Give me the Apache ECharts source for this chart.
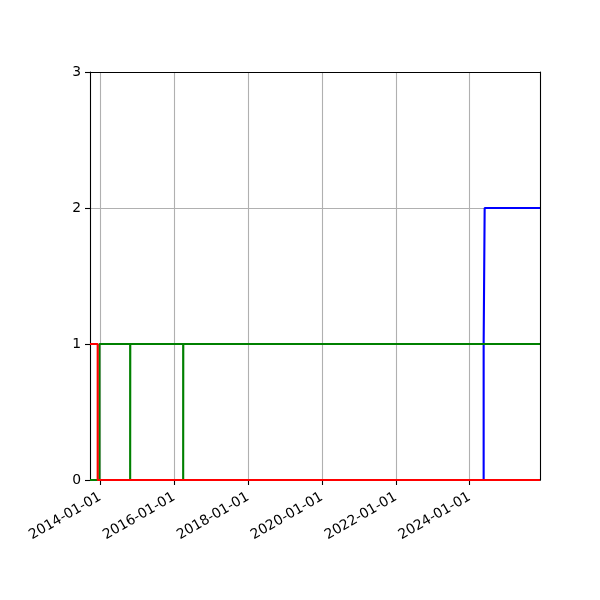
<!DOCTYPE html>
<html><head><meta charset="utf-8">
<script src="https://cdn.jsdelivr.net/npm/echarts@6/dist/echarts.min.js"></script>
<style>html,body{margin:0;padding:0;background:#fff}#c{width:600px;height:600px}</style>
</head><body><div id="c"></div>
<script>
// Axis tick labels / limits
const xTickLabels = ['2014-01-01','2016-01-01','2018-01-01','2020-01-01','2022-01-01','2024-01-01'];
const yTickValues = [0, 1, 2, 3];
const xMinDate = '2013-09-22';
const xMaxDate = '2025-11-26';

// Step series (value holds from each date until the next)
const redDates   = ['2013-09-22','2013-12-07','2025-11-26'];
const redValues  = [1, 0, 0];
const greenDates  = ['2013-09-22','2013-12-24','2014-10-24','2014-10-25','2016-03-31','2016-04-01','2025-11-26'];
const greenValues = [0, 1, 0, 1, 0, 1, 1];
const blueDates  = ['2013-09-22','2024-05-18','2024-05-28','2025-11-26'];
const blueValues = [0, 1, 2, 2];

function ts(s){const p=s.split('-');return Date.UTC(+p[0],+p[1]-1,+p[2]);}
function fmt(v){const d=new Date(v);const p=n=>(n<10?'0':'')+n;return d.getUTCFullYear()+'-'+p(d.getUTCMonth()+1)+'-'+p(d.getUTCDate());}
function pairs(ds,vs){return ds.map((d,i)=>[ts(d),vs[i]]);}

const font = 'DejaVu Sans';
const xTicks = xTickLabels.map(ts);
const spine = {show:true,onZero:false,lineStyle:{color:'#000',width:1.1}};
const chart = echarts.init(document.getElementById('c'), null, {renderer:'canvas'});
chart.setOption({
  animation:false,
  backgroundColor:'#fff',
  grid:{left:90,right:60,top:72,bottom:120,show:false,containLabel:false},
  xAxis:[{
    type:'value', min:ts(xMinDate), max:ts(xMaxDate), position:'bottom',
    axisLine:spine,
    axisTick:{show:true,length:5,lineStyle:{color:'#000',width:1.1},customValues:xTicks},
    axisLabel:{show:true,customValues:xTicks,formatter:fmt,rotate:30,margin:16,color:'#000',fontFamily:font,fontSize:13.9,hideOverlap:false,showMinLabel:true,showMaxLabel:true},
    splitLine:{show:true,lineStyle:{color:'#b0b0b0',width:1.1}}
  },{
    type:'value', min:ts(xMinDate), max:ts(xMaxDate), position:'top', z:10,
    axisLine:spine, axisTick:{show:false}, axisLabel:{show:false}, splitLine:{show:false}
  }],
  yAxis:[{
    type:'value', min:yTickValues[0], max:yTickValues[yTickValues.length-1], interval:1, position:'left',
    axisLine:spine,
    axisTick:{show:true,length:5,lineStyle:{color:'#000',width:1.1}},
    axisLabel:{color:'#000',fontFamily:font,fontSize:13.9,margin:9},
    splitLine:{show:true,lineStyle:{color:'#b0b0b0',width:1.1}}
  },{
    type:'value', min:yTickValues[0], max:yTickValues[yTickValues.length-1], interval:1, position:'right', z:10,
    axisLine:spine, axisTick:{show:false}, axisLabel:{show:false}, splitLine:{show:false}
  }],
  series:[
    {type:'line',step:'end',data:pairs(blueDates,blueValues),showSymbol:false,lineStyle:{color:'#0000ff',width:2.1},itemStyle:{color:'#0000ff'},z:2},
    {type:'line',step:'end',data:pairs(greenDates,greenValues),showSymbol:false,lineStyle:{color:'#008000',width:2.1},itemStyle:{color:'#008000'},z:3},
    {type:'line',step:'end',data:pairs(redDates,redValues),showSymbol:false,lineStyle:{color:'#ff0000',width:2.1},itemStyle:{color:'#ff0000'},z:4}
  ]
});
</script></body></html>
